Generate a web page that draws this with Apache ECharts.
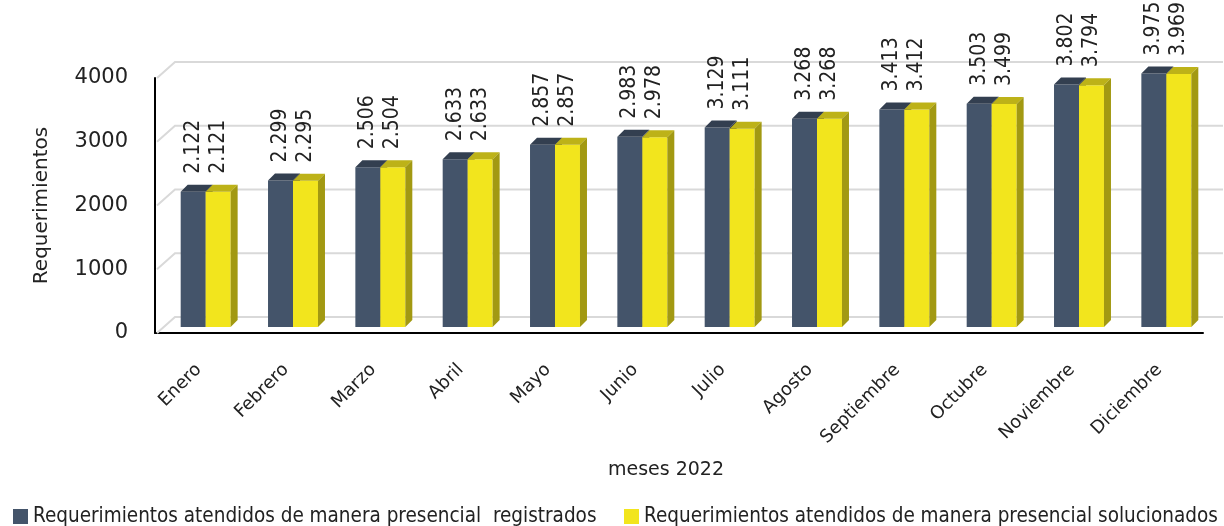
<!DOCTYPE html>
<html>
<head>
<meta charset="utf-8">
<script src="https://cdn.jsdelivr.net/npm/echarts@6/dist/echarts.min.js"></script>
<style>html,body{margin:0;padding:0;background:#fff}#c{width:1224px;height:526px}</style>
</head>
<body>
<div id="c"></div>
<script>
const months = ['Enero','Febrero','Marzo','Abril','Mayo','Junio','Julio','Agosto','Septiembre','Octubre','Noviembre','Diciembre'];
const registered = [2122, 2299, 2506, 2633, 2857, 2983, 3129, 3268, 3413, 3503, 3802, 3975];
const solved = [2121, 2295, 2504, 2633, 2857, 2978, 3111, 3268, 3412, 3499, 3794, 3969];
const yTicks = [0, 1000, 2000, 3000, 4000];
const seriesNames = ['Requerimientos atendidos de manera presencial  registrados', 'Requerimientos atendidos de manera presencial solucionados'];

const NARROW = "'DejaVu Sans Condensed', 'Liberation Sans Narrow', sans-serif";
const GEO = "'DejaVu Sans', sans-serif";
// 3D offsets (pixels)
const BX = 7, BY = -6;     // front plane -> bar plane
const DX = 7, DY = -7;     // bar depth
const WX = 20, WY = -16;   // front plane -> back wall

function fmt(v){ const t = Math.floor(v/1000), r = v % 1000; return t + '.' + String(r).padStart(3,'0'); }

function barRenderer(side, cFront, cTop, cSide){
  return function(params, api){
    const i = api.value(0), v = api.value(1);
    const base = api.coord([i, 0]);
    const top = api.coord([i, v]);
    const band = api.size([1, 0])[0];
    const w = band * 0.286;
    const x0 = base[0] + BX + (side === 0 ? -w : 0);
    const yB = base[1] + BY, yT = top[1] + BY;
    return {
      type: 'group',
      children: [
        {type:'rect', shape:{x:x0, y:yT, width:w, height:yB-yT}, style:{fill:cFront}},
        {type:'polygon', shape:{points:[[x0,yT],[x0+DX,yT+DY],[x0+w+DX,yT+DY],[x0+w,yT]]}, style:{fill:cTop}},
        {type:'polygon', shape:{points:[[x0+w,yT],[x0+w+DX,yT+DY],[x0+w+DX,yB+DY],[x0+w,yB]]}, style:{fill:cSide}},
        {type:'text', x:x0+w/2, y:yT+DY-11, rotation:Math.PI/2,
         style:{text:fmt(v), align:'left', verticalAlign:'middle', fill:'#222', font:'21px ' + NARROW}}
      ]
    };
  };
}

function gridRenderer(params, api){
  const v = api.value(1);
  const p = api.coord([0, v]);
  const cs = params.coordSys;
  const x = cs.x + 2, y = p[1];
  return {
    type:'polyline',
    shape:{points:[[x, y], [cs.x + WX, y + WY], [cs.x + cs.width + WX, y + WY]]},
    style:{stroke:'#d9d9d9', lineWidth:2, fill:null}
  };
}

const chart = echarts.init(document.getElementById('c'));
chart.setOption({
  animation: false,
  grid: {left:155, right:21, top:78, bottom:193},
  xAxis: {
    type:'category', data: months,
    axisLine:{show:true, lineStyle:{color:'#000', width:2}},
    axisTick:{show:false},
    axisLabel:{rotate:45, margin:34, color:'#222', fontSize:18, fontFamily:GEO, interval:0},
    name:'meses 2022', nameLocation:'middle', nameGap:128,
    nameTextStyle:{color:'#222', fontSize:19, fontFamily:GEO, padding:[0,26,0,0]}
  },
  yAxis: {
    type:'value', min:0, max:4000, interval:1000,
    axisLine:{show:true, lineStyle:{color:'#000', width:2}},
    axisTick:{show:false},
    splitLine:{show:false},
    axisLabel:{margin:27, color:'#222', fontSize:21, fontFamily:GEO, formatter: v => String(v)},
    name:'Requerimientos', nameLocation:'middle', nameGap:103,
    nameTextStyle:{color:'#222', fontSize:20, fontFamily:GEO}
  },
  legend: [
    {left:8, top:501, data:[seriesNames[0]], icon:'rect', itemWidth:15, itemHeight:15, itemGap:0,
     textStyle:{color:'#222', fontSize:20.5, fontFamily:NARROW}},
    {left:619, top:501, data:[seriesNames[1]], icon:'rect', itemWidth:15, itemHeight:15, itemGap:0,
     textStyle:{color:'#222', fontSize:20.5, fontFamily:NARROW}}
  ],
  series: [
    {type:'custom', name:'grid', silent:true, z:1, renderItem:gridRenderer,
     data: yTicks.map(t => [0, t]), encode:{x:0, y:1}},
    {type:'custom', name:seriesNames[0], z:2, itemStyle:{color:'#44546a'},
     renderItem: barRenderer(0, '#44546a', '#333f50', '#2f3a4a'),
     data: registered.map((v,i) => [i, v]), encode:{x:0, y:1}},
    {type:'custom', name:seriesNames[1], z:3, itemStyle:{color:'#f2e51d'},
     renderItem: barRenderer(1, '#f2e51d', '#bdb218', '#a29912'),
     data: solved.map((v,i) => [i, v]), encode:{x:0, y:1}}
  ]
});
</script>
</body>
</html>
